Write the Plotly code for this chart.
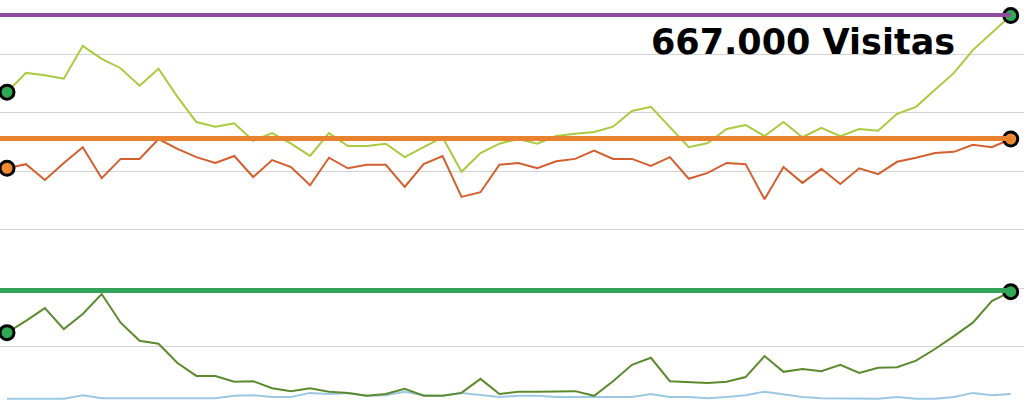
import plotly.graph_objects as go

# Day index (54 points)
days = list(range(54))

# Visits (thousands) - light green series
visitas = [535, 568, 564, 558, 614, 592, 576, 546, 575, 527,
           484, 476, 482, 452, 465, 447, 426, 465, 443, 443,
           447, 424, 441, 458, 399, 431, 447, 455, 447, 460,
           464, 467, 476, 503, 510, 476, 441, 448, 472, 479,
           460, 484, 458, 474, 460, 472, 469, 498, 510, 539,
           568, 607, 636, 666]

# Orange series
naranja = [405, 412, 385, 414, 441, 388, 421, 421, 455, 438,
           424, 414, 426, 390, 419, 407, 376, 423, 405, 411,
           411, 373, 412, 426, 356, 364, 411, 414, 405, 417,
           421, 435, 421, 421, 409, 424, 387, 397, 414, 412,
           352, 407, 380, 404, 378, 405, 395, 416, 423, 431,
           433, 445, 441, 455]

# Dark green series
verde = [124, 144, 166, 130, 156, 190, 141, 110, 105, 72,
         50, 50, 40, 41, 29, 24, 29, 23, 21, 16,
         19, 28, 16, 16, 21, 45, 19, 23, 23, 23,
         24, 16, 41, 69, 81, 41, 40, 38, 40, 48,
         84, 57, 62, 58, 69, 55, 64, 65, 76, 96,
         118, 141, 178, 194]

# Light blue series
azul = [11, 11, 11, 11, 17, 12, 12, 12, 12, 11,
        11, 12, 16, 17, 14, 14, 21, 19, 21, 16,
        17, 23, 17, 16, 21, 17, 14, 16, 16, 14,
        14, 14, 14, 14, 19, 14, 14, 12, 14, 17,
        23, 19, 14, 12, 12, 11, 11, 14, 11, 11,
        14, 21, 17, 19]

# Reference levels (max lines)
ref_values = [667, 456, 196]
ref_colors = ["#8E4C9E", "#E8822F", "#34A35A"]
ref_widths = [4, 5, 5]

label_text = "667.000 Visitas"

fig = go.Figure()

fig.add_trace(go.Scatter(x=days, y=azul, mode="lines",
                         line=dict(color="#9CC8E4", width=2), hoverinfo="skip"))
fig.add_trace(go.Scatter(x=days, y=verde, mode="lines",
                         line=dict(color="#5C8A2E", width=2), hoverinfo="skip"))
fig.add_trace(go.Scatter(x=days, y=naranja, mode="lines",
                         line=dict(color="#D35F2E", width=2), hoverinfo="skip"))
fig.add_trace(go.Scatter(x=days, y=visitas, mode="lines",
                         line=dict(color="#AACA40", width=2), hoverinfo="skip"))

# Reference lines
for v, c, w in zip(ref_values, ref_colors, ref_widths):
    fig.add_shape(type="line", xref="x", yref="y",
                  x0=-1, x1=days[-1], y0=v, y1=v,
                  line=dict(color=c, width=w), layer="above")

# End markers
ends = [(visitas, "#2EAA55"), (naranja, "#F08A30"), (verde, "#2EAA55")]
for s, fc in ends:
    fig.add_trace(go.Scatter(x=[days[0], days[-1]], y=[s[0], s[-1]], mode="markers",
                             marker=dict(size=14, color=fc,
                                         line=dict(color="#000000", width=3)),
                             hoverinfo="skip", cliponaxis=False))

fig.add_annotation(text="<b>" + label_text + "</b>", xref="paper", yref="paper",
                   x=0.784, y=0.896, xanchor="center", yanchor="middle",
                   showarrow=False,
                   font=dict(family="DejaVu Sans", size=35, color="#000000"))

fig.update_layout(
    width=1024, height=404,
    margin=dict(l=0, r=0, t=0, b=0),
    paper_bgcolor="#FFFFFF", plot_bgcolor="#FFFFFF",
    showlegend=False,
    xaxis=dict(range=[-0.37, 53.70], showgrid=False, zeroline=False,
               showticklabels=False, visible=False),
    yaxis=dict(range=[2, 692.6], dtick=100, tick0=0, showgrid=True,
               gridcolor="#D3D3D3", gridwidth=1, zeroline=False,
               showticklabels=False, ticks=""),
)

fig.write_html("out.html", config={"displayModeBar": False},
               post_script="document.body.style.margin='0px';document.body.style.overflow='hidden';")
